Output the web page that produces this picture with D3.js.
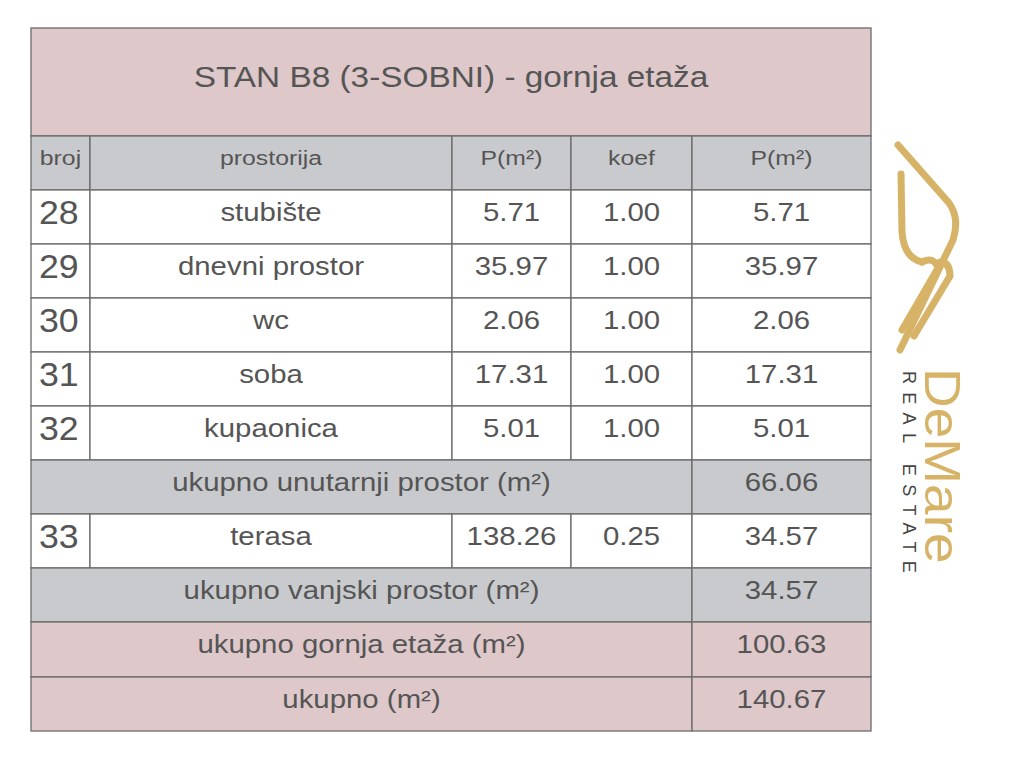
<!DOCTYPE html>
<html><head><meta charset="utf-8">
<script src="https://cdn.jsdelivr.net/npm/d3@7"></script>
<style>body{margin:0;background:#fff}</style>
</head><body>
<svg id="chart" width="1024" height="768"></svg>
<script>
const title = "STAN B8 (3-SOBNI) - gornja etaža";
const headers = ["broj", "prostorija", "P(m²)", "koef", "P(m²)"];
const nums = ["28", "29", "30", "31", "32"];
const rooms = ["stubište", "dnevni prostor", "wc", "soba", "kupaonica"];
const areas = [5.71, 35.97, 2.06, 17.31, 5.01];
const koefs = [1.00, 1.00, 1.00, 1.00, 1.00];
const netto = [5.71, 35.97, 2.06, 17.31, 5.01];
const terrace = {num: "33", room: "terasa", area: 138.26, koef: 0.25, netto: 34.57};
const sumLabels = ["ukupno unutarnji prostor (m²)", "ukupno vanjski prostor (m²)", "ukupno gornja etaža (m²)", "ukupno (m²)"];
const sumValues = [66.06, 34.57, 100.63, 140.67];

const svg = d3.select("#chart");
const PINK = "#dec8ca", GREY = "#c9cacd", TXT = "#555", LINE = "#6a6a6a";
const colEdges = [31, 90, 452, 571, 692, 871];
const rowTops = [28, 136, 190, 244, 298, 352, 406, 460, 514, 568, 622, 677, 731];
const y = i => rowTops[i];
const font = "Liberation Sans, Arial, sans-serif";

function cell(r, c0, c1, fill, text, size, sx, anchorX) {
  const x0 = colEdges[c0], x1 = colEdges[c1];
  svg.append("rect").attr("x", x0).attr("y", y(r)).attr("width", x1 - x0)
    .attr("height", y(r + 1) - y(r)).attr("fill", fill).attr("stroke", LINE).attr("stroke-width", 1.3);
  const tx = anchorX != null ? anchorX : (x0 + x1) / 2;
  const ty = y(r) + (y(r + 1) - y(r)) / 2 - 5;
  svg.append("text").attr("transform", `translate(${tx},${ty}) scale(${sx},1)`)
    .attr("text-anchor", anchorX != null ? "start" : "middle").attr("dominant-baseline", "central")
    .attr("font-family", font).attr("font-size", size).attr("fill", TXT).text(text);
}

cell(0, 0, 5, PINK, title, 29, 1.15);
headers.forEach((h, i) => cell(1, i, i + 1, GREY, h, 21, 1.18));
const fmt = d3.format(".2f");
const B = 26, S = 1.13;
rooms.forEach((r, i) => {
  const row = 2 + i;
  cell(row, 0, 1, "#fff", nums[i], 34, 1.05, 39);
  cell(row, 1, 2, "#fff", r, B, S);
  cell(row, 2, 3, "#fff", fmt(areas[i]), B, S);
  cell(row, 3, 4, "#fff", fmt(koefs[i]), B, S);
  cell(row, 4, 5, "#fff", fmt(netto[i]), B, S);
});
cell(7, 0, 4, GREY, sumLabels[0], B, S);
cell(7, 4, 5, GREY, fmt(sumValues[0]), B, S);
cell(8, 0, 1, "#fff", terrace.num, 34, 1.05, 39);
cell(8, 1, 2, "#fff", terrace.room, B, S);
cell(8, 2, 3, "#fff", fmt(terrace.area), B, S);
cell(8, 3, 4, "#fff", fmt(terrace.koef), B, S);
cell(8, 4, 5, "#fff", fmt(terrace.netto), B, S);
cell(9, 0, 4, GREY, sumLabels[1], B, S);
cell(9, 4, 5, GREY, fmt(sumValues[1]), B, S);
cell(10, 0, 4, PINK, sumLabels[2], B, S);
cell(10, 4, 5, PINK, fmt(sumValues[2]), B, S);
cell(11, 0, 4, PINK, sumLabels[3], B, S);
cell(11, 4, 5, PINK, fmt(sumValues[3]), B, S);

// logo
const GOLD = "#d6b366";
const g = svg.append("g").attr("fill", "none").attr("stroke", GOLD).attr("stroke-width", 7).attr("stroke-linecap", "round");
g.append("path").attr("d", "M898,145 L949,203 Q960,218 953,240 L900,350");
g.append("path").attr("d", "M901,174 L902,232 Q904,258 922,262");
g.append("path").attr("d", "M922,262 Q934,256 938,268 L902,330");
g.append("path").attr("d", "M940,262 Q950,262 950,276 L914,336");
svg.append("text").attr("transform", "translate(925,368) rotate(90) scale(1.1,1)")
  .attr("font-family", font).attr("font-size", 50).attr("fill", GOLD).text("DeMare");
svg.append("text").attr("transform", "translate(903,371) rotate(90)")
  .attr("font-family", font).attr("font-size", 18).attr("letter-spacing", 8.3).attr("fill", "#444").text("REAL ESTATE");
</script>
</body></html>
